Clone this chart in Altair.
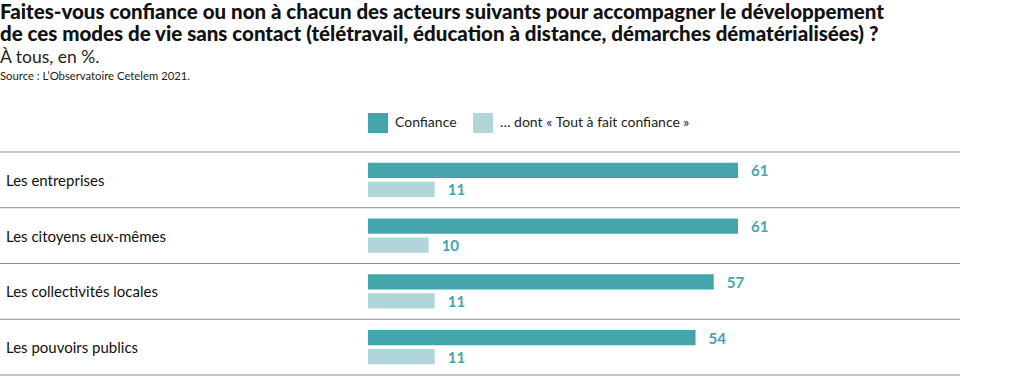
import altair as alt
import pandas as pd

categories = ["Les entreprises", "Les citoyens eux-mêmes", "Les collectivités locales", "Les pouvoirs publics"]
confiance = [61, 61, 57, 54]
tout_a_fait = [11, 10, 11, 11]
series_names = ["Confiance", "… dont «\u202fTout à fait confiance\u202f»"]
colors = ["#45a5ad", "#b1d6da"]

title_lines = [
    "Faites-vous confiance ou non à chacun des acteurs suivants pour accompagner le développement",
    "de ces modes de vie sans contact (télétravail, éducation à distance, démarches dématérialisées) ?",
]
subtitle = "À tous, en %."
source = "Source : L’Observatoire Cetelem 2021."

rows = []
for c, a, b in zip(categories, confiance, tout_a_fait):
    rows.append({"cat": c, "serie": series_names[0], "val": a})
    rows.append({"cat": c, "serie": series_names[1], "val": b})
df = pd.DataFrame(rows)
cat_df = pd.DataFrame({"cat": categories})

FONT = "Lato"
W, H = 960, 223

y_scale = alt.Scale(domain=categories, paddingInner=0, paddingOuter=0)
y_enc = alt.Y("cat:N", sort=categories, axis=None, scale=y_scale)
x_scale = alt.Scale(domain=[0, 97.6], range=[368, 960])
yoff = alt.YOffset("serie:N", sort=series_names,
                   scale=alt.Scale(domain=series_names, paddingInner=0.21, paddingOuter=0.57))

bars = alt.Chart(df).mark_bar().encode(
    x=alt.X("val:Q", scale=x_scale, axis=None),
    y=y_enc,
    yOffset=yoff,
    color=alt.Color(
        "serie:N", sort=series_names,
        scale=alt.Scale(domain=series_names, range=colors),
        legend=alt.Legend(
            title=None, orient="none", legendX=368, legendY=-39,
            direction="horizontal", symbolType="square", symbolSize=400,
            symbolStrokeWidth=0, labelFontSize=14, labelFont=FONT,
            labelColor="#222", labelOffset=7, columnPadding=16, padding=0,
            labelLimit=0,
        ),
    ),
)

values = alt.Chart(df).mark_text(
    align="left", baseline="middle", dx=13, dy=1, fontWeight="bold", fontSize=15,
    font=FONT, color=colors[0]
).encode(
    x=alt.X("val:Q", scale=x_scale, axis=None),
    y=y_enc,
    yOffset=yoff,
    text="val:Q",
)

row_labels = alt.Chart(cat_df).mark_text(
    align="left", baseline="middle", dy=1, fontSize=15, font=FONT, color="#111"
).encode(x=alt.value(6), y=y_enc, text="cat:N")

seps = alt.Chart(cat_df).mark_rule(color="#8c8c8c", strokeWidth=1).encode(
    y=alt.Y("cat:N", sort=categories, axis=None, scale=y_scale, bandPosition=0),
    x=alt.value(0), x2=alt.value(W),
)
bottom_sep = alt.Chart(cat_df).transform_filter(
    alt.datum.cat == categories[-1]
).mark_rule(color="#8c8c8c", strokeWidth=1).encode(
    y=alt.Y("cat:N", sort=categories, axis=None, scale=y_scale, bandPosition=1),
    x=alt.value(0), x2=alt.value(W),
)

def text_line(txt, y, size, weight="normal", color="#111"):
    return alt.Chart(pd.DataFrame({"t": [txt]})).mark_text(
        align="left", baseline="alphabetic", fontSize=size, fontWeight=weight,
        font=FONT, color=color
    ).encode(x=alt.value(0), y=alt.value(y), text="t:N")

titles = [
    text_line(title_lines[0], -133, 20.5, 900, "#111"),
    text_line(title_lines[1], -111, 20.5, 900, "#111"),
    text_line(subtitle, -89, 17.5, "normal", "#222"),
    text_line(source, -72, 11.3, "normal", "#222"),
]

chart = alt.layer(seps, bottom_sep, bars, values, row_labels, *titles).properties(
    width=W, height=H,
    background="white",
    autosize=alt.AutoSizeParams(type="none"),
    padding={"left": 0, "top": 152, "right": 60, "bottom": 1},
).configure_view(stroke=None)

chart.save("out.html", embed_options={"renderer": "svg", "actions": False})
